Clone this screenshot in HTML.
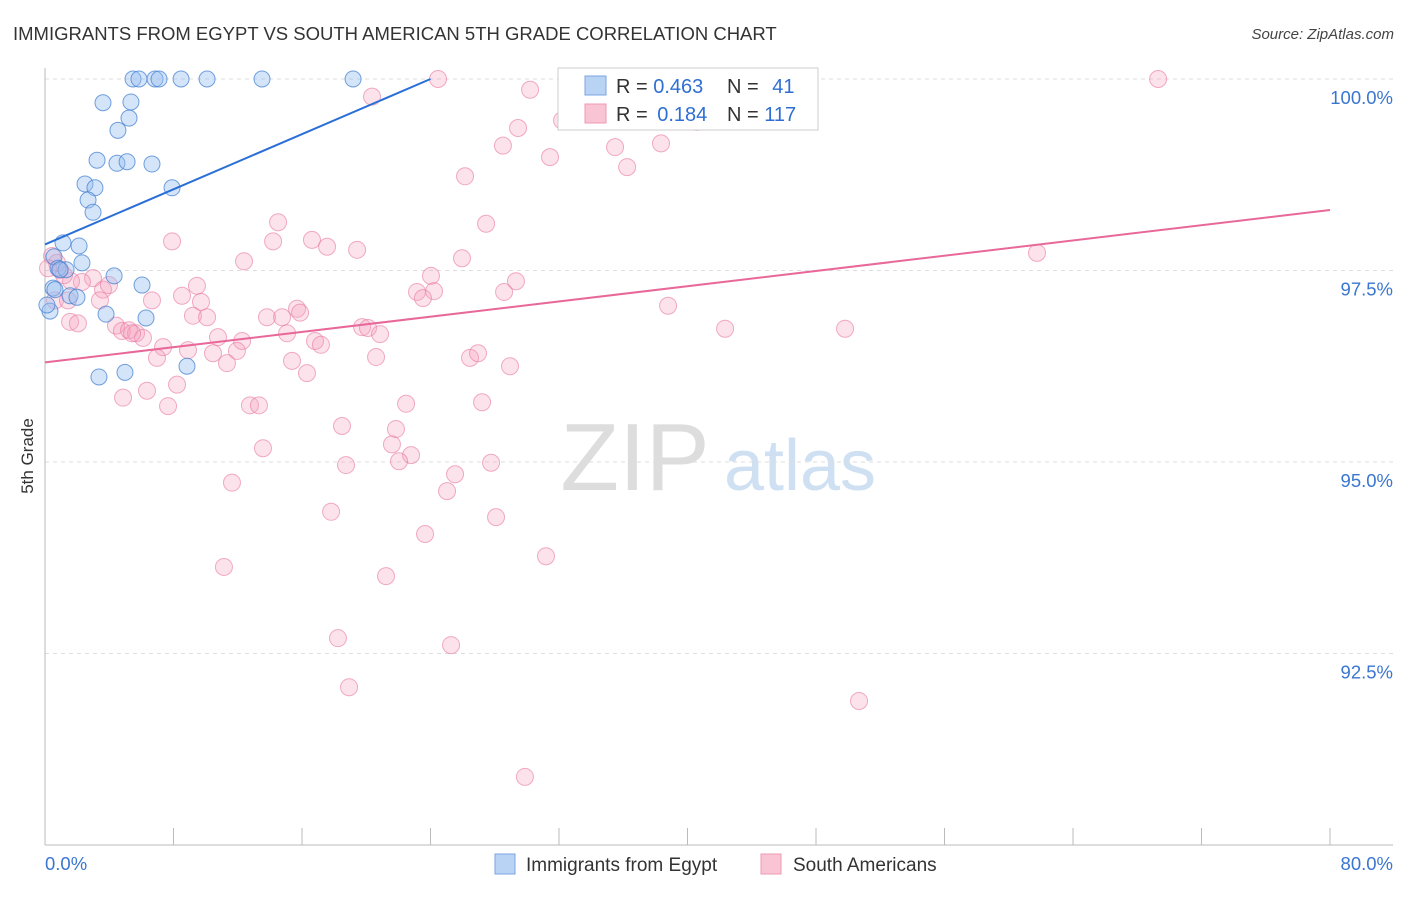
<!DOCTYPE html>
<html><head><meta charset="utf-8"><style>
body{margin:0;background:#fff;font-family:"Liberation Sans",sans-serif;}
svg text{font-family:"Liberation Sans",sans-serif;}
</style></head><body>
<svg id="chart" width="1406" height="892" xmlns="http://www.w3.org/2000/svg">
<text x="13" y="40" font-size="18.5" fill="#333">IMMIGRANTS FROM EGYPT VS SOUTH AMERICAN 5TH GRADE CORRELATION CHART</text>
<text x="1394" y="39" font-size="15" fill="#444" text-anchor="end" font-style="italic">Source: ZipAtlas.com</text>
<text transform="translate(33,456) rotate(-90)" font-size="17" fill="#333" text-anchor="middle">5th Grade</text>
<g>
<text x="635" y="490" font-size="96" fill="#ddd" font-family="Liberation Serif" text-anchor="middle">ZIP</text>
<text x="800" y="490" font-size="72" fill="#cfe0f3" text-anchor="middle">atlas</text>
</g>
<g id="grid"></g><g id="axes"></g><g id="pts"></g><g id="lines"></g>
<g>
<rect x="558" y="68" width="260" height="62" fill="#fff" stroke="#ccc"/>
<rect x="585" y="76" width="21" height="19" fill="#b9d3f5" stroke="#7aa6e0"/>
<rect x="585" y="104" width="21" height="19" fill="#f9c4d3" stroke="#ee9ab3"/>
<text x="616" y="93" font-size="20" fill="#333">R = <tspan fill="#2f6fd4">0.463</tspan></text>
<text x="727" y="93" font-size="20" fill="#333">N = <tspan fill="#2f6fd4" dx="8">41</tspan></text>
<text x="616" y="121" font-size="20" fill="#333">R = <tspan fill="#2f6fd4" dx="4">0.184</tspan></text>
<text x="727" y="121" font-size="20" fill="#333">N = <tspan fill="#2f6fd4">117</tspan></text>
</g>
<g>
<rect x="495" y="854" width="20" height="20" fill="#b9d3f5" stroke="#7aa6e0"/>
<text x="526" y="871" font-size="19" fill="#333">Immigrants from Egypt</text>
<rect x="761" y="854" width="20" height="20" fill="#f9c4d3" stroke="#ee9ab3"/>
<text x="793" y="871" font-size="19" fill="#333">South Americans</text>
</g>
</svg>
<script>
const xTicks=[0,8,16,24,32,40,48,56,64,72,80];
const yTicks=[92.5,95,97.5,100];
const yTickLabels=["92.5%","95.0%","97.5%","100.0%"];
const xEndLabels=["0.0%","80.0%"];
const egyptX=[5.48,5.85,6.85,7.10,8.47,10.09,13.51,19.18,3.61,5.35,5.23,4.54,3.24,4.48,5.11,6.66,2.49,3.11,2.68,7.91,2.99,1.12,2.12,2.30,0.56,0.81,1.31,4.30,6.04,0.50,1.56,1.99,0.31,3.80,6.29,8.84,3.36,4.98,0.12,0.62,0.93];
const egyptY=[100,100,100,100,100,100,100,100,99.69,99.70,99.49,99.33,98.94,98.90,98.92,98.89,98.63,98.58,98.42,98.58,98.26,97.86,97.82,97.60,97.68,97.53,97.51,97.43,97.31,97.27,97.17,97.15,96.97,96.93,96.88,96.25,96.11,96.17,97.05,97.25,97.51];
const saX=[69.30,24.47,32.56,39.22,41.09,30.20,20.36,32.19,29.45,28.51,31.44,35.49,38.35,36.24,26.15,40.59,27.46,14.51,14.20,16.62,17.56,19.43,7.91,12.39,25.96,61.76,24.03,29.32,23.16,24.22,28.58,23.53,38.79,15.69,15.88,9.71,8.53,9.46,6.66,3.61,3.98,2.99,2.30,1.62,1.18,0.93,0.44,0.75,1.56,2.05,4.42,4.79,5.23,5.67,6.10,5.42,9.21,10.09,13.82,14.76,15.07,16.81,17.18,19.74,20.11,20.86,42.34,49.81,10.77,12.27,11.95,10.46,7.35,8.90,6.97,11.33,15.38,16.31,20.61,26.46,26.96,28.95,8.22,6.35,4.86,7.66,12.76,13.32,22.48,27.21,18.49,21.85,13.57,21.60,22.79,18.74,22.04,27.77,25.53,25.03,11.64,17.81,28.08,23.66,31.19,11.14,21.23,18.24,25.28,18.93,50.68,29.88,0.19,0.62,1.43,3.42];
const saY=[100,100,100,100,99.79,99.86,99.77,99.46,99.36,99.13,98.98,99.11,99.16,98.85,98.73,99.44,98.11,98.13,97.88,97.90,97.81,97.77,97.88,97.62,97.66,97.73,97.43,97.36,97.22,97.23,97.22,97.14,97.04,97.00,96.95,97.09,97.17,97.30,97.11,97.25,97.31,97.40,97.35,97.36,97.44,97.51,97.69,97.60,96.83,96.81,96.78,96.71,96.72,96.68,96.62,96.68,96.91,96.89,96.89,96.89,96.68,96.58,96.53,96.76,96.75,96.67,96.74,96.74,96.63,96.58,96.45,96.42,96.50,96.46,96.36,96.29,96.32,96.16,96.37,96.36,96.42,96.25,96.01,95.93,95.84,95.73,95.74,95.74,95.76,95.78,95.47,95.43,95.18,95.23,95.09,94.96,95.01,94.99,94.84,94.62,94.73,94.35,94.28,94.06,93.77,93.63,93.51,92.70,92.61,92.06,91.88,90.89,97.53,97.11,97.11,97.11];
const egyptTrend=[0,97.84,24.0,100];
const saTrend=[0,96.30,80,98.29];
const NS="http://www.w3.org/2000/svg";
function sx(v){return 45+v*(1285/80);}
function sy(v){return 79+(100-v)*76.6;}
function mk(tag,attrs,parent){const e=document.createElementNS(NS,tag);for(const k in attrs)e.setAttribute(k,attrs[k]);document.getElementById(parent).appendChild(e);return e;}
yTicks.forEach((t,i)=>{
 const g=mk('line',{x1:45,x2:1393,y1:sy(t),y2:sy(t),stroke:'#ddd','stroke-dasharray':'4,4'},'grid');
 
 
 const l=mk('text',{x:1393,y:sy(t)+25,'font-size':18.5,fill:'#3a76d0','text-anchor':'end'},'axes');
 l.textContent=yTickLabels[i];
 
 
});
const ya=mk('line',{x1:45,x2:45,y1:68,y2:845,stroke:'#bbb'},'axes');


const xa=mk('line',{x1:45,x2:1393,y1:845,y2:845,stroke:'#bbb'},'axes');


xTicks.forEach(t=>{
 const k=mk('line',{x1:sx(t),x2:sx(t),y1:828,y2:845,stroke:'#bbb'},'axes');
 
 
});
const xl0=mk('text',{x:45,y:870,'font-size':18.5,fill:'#3a76d0'},'axes');
xl0.textContent=xEndLabels[0];


const xl1=mk('text',{x:1393,y:870,'font-size':18.5,fill:'#3a76d0','text-anchor':'end'},'axes');
xl1.textContent=xEndLabels[1];


saX.forEach((x,i)=>{
 const c=mk('circle',{cx:sx(x),cy:sy(saY[i]),r:8.5,fill:'rgba(246,160,188,0.3)',stroke:'rgba(232,120,160,0.6)','stroke-width':1},'pts');
 
 
});
egyptX.forEach((x,i)=>{
 const c=mk('circle',{cx:sx(x),cy:sy(egyptY[i]),r:8,fill:'rgba(150,190,240,0.4)',stroke:'rgba(70,130,210,0.75)','stroke-width':1},'pts');
 
 
});
const bl=mk('line',{x1:sx(egyptTrend[0]),y1:sy(egyptTrend[1]),x2:sx(egyptTrend[2]),y2:sy(egyptTrend[3]),stroke:'#2a6fd6','stroke-width':2},'lines');


const pl=mk('line',{x1:sx(saTrend[0]),y1:sy(saTrend[1]),x2:sx(saTrend[2]),y2:sy(saTrend[3]),stroke:'#e8689a','stroke-width':2},'lines');


</script>
</body></html>
